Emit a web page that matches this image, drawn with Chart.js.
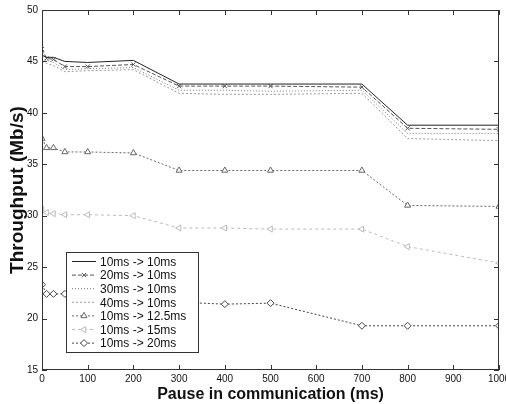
<!DOCTYPE html>
<html>
<head>
<meta charset="utf-8">
<script src="https://cdn.jsdelivr.net/npm/chart.js@4"></script>
<style>
  body { margin: 0; background: #fff; }
  #wrap { width: 506px; height: 404px; }
</style>
</head>
<body>
<div id="wrap"><canvas id="thr" width="506" height="404"></canvas></div>
<script>
// pause in communication (ms)
const pauses = [0, 10, 25, 50, 100, 200, 300, 400, 500, 700, 800, 1000];

const s10to10  = [45.6, 45.4, 45.4, 45.0, 44.9, 45.1, 42.8, 42.8, 42.8, 42.8, 38.8, 38.8];
const s20to10  = [46.2, 45.3, 45.2, 44.5, 44.5, 44.7, 42.6, 42.6, 42.6, 42.5, 38.5, 38.4];
const s30to10  = [45.3, 45.1, 44.9, 44.2, 44.3, 44.4, 42.2, 42.2, 42.1, 42.2, 38.0, 38.0];
const s40to10  = [45.0, 44.8, 44.6, 44.0, 44.1, 44.2, 41.9, 41.8, 41.8, 41.9, 37.5, 37.3];
const s10to125 = [37.5, 36.6, 36.6, 36.2, 36.2, 36.1, 34.4, 34.4, 34.4, 34.4, 31.0, 30.9];
const s10to15  = [30.6, 30.3, 30.2, 30.1, 30.1, 30.0, 28.8, 28.8, 28.7, 28.7, 27.0, 25.4];
const s10to20  = [23.3, 22.4, 22.4, 22.4, 22.3, 22.1, 21.6, 21.4, 21.5, 19.3, 19.3, 19.3];

const seriesNames = ['10ms -> 10ms', '20ms -> 10ms', '30ms -> 10ms', '40ms -> 10ms',
                     '10ms -> 12.5ms', '10ms -> 15ms', '10ms -> 20ms'];
const yTicks = [15, 20, 25, 30, 35, 40, 45, 50];
const xTicks = [0, 100, 200, 300, 400, 500, 600, 700, 800, 900, 1000];

function pts(vals) {
  return pauses.map((p, i) => ({ x: p, y: vals[i] }));
}

function ds(label, vals, color, dash, style, radius, rot) {
  return {
    label: label,
    data: pts(vals),
    borderColor: color,
    backgroundColor: 'rgba(0,0,0,0)',
    pointBorderColor: color,
    pointBackgroundColor: '#fff',
    borderWidth: 1,
    borderDash: dash,
    pointStyle: style,
    pointRadius: radius,
    pointRotation: rot || 0,
    pointBorderWidth: 1,
    tension: 0
  };
}

const frame = {
  id: 'frame',
  afterDraw(chart) {
    const ctx = chart.ctx, a = chart.chartArea;
    const xs = chart.scales.x, ys = chart.scales.y;
    ctx.save();
    ctx.strokeStyle = '#333';
    ctx.lineWidth = 1;
    ctx.setLineDash([]);
    ctx.strokeRect(a.left + 0.5, a.top + 0.5, a.right - a.left - 1, a.bottom - a.top - 1);
    ctx.beginPath();
    xTicks.forEach(t => {
      const px = Math.round(xs.getPixelForValue(t)) + 0.5;
      ctx.moveTo(px, a.bottom); ctx.lineTo(px, a.bottom - 5);
      ctx.moveTo(px, a.top); ctx.lineTo(px, a.top + 5);
    });
    yTicks.forEach(t => {
      const py = Math.round(ys.getPixelForValue(t)) + 0.5;
      ctx.moveTo(a.left, py); ctx.lineTo(a.left + 5, py);
      ctx.moveTo(a.right, py); ctx.lineTo(a.right - 5, py);
    });
    ctx.stroke();

    // legend box inside the plot
    const lx = 66, ly = 252, lw = 132, lh = 100;
    ctx.fillStyle = '#fff';
    ctx.fillRect(lx, ly, lw, lh);
    ctx.strokeStyle = '#333';
    ctx.strokeRect(lx + 0.5, ly + 0.5, lw, lh);
    ctx.font = '12px "Liberation Sans", Arial, sans-serif';
    ctx.textBaseline = 'middle';
    chart.data.datasets.forEach((d, i) => {
      const y = ly + 9.5 + i * 13.6;
      ctx.strokeStyle = d.borderColor;
      ctx.setLineDash(d.borderDash);
      ctx.beginPath();
      ctx.moveTo(lx + 6, y); ctx.lineTo(lx + 30, y);
      ctx.stroke();
      ctx.setLineDash([]);
      if (d.pointRadius > 0) {
        ctx.fillStyle = '#fff';
        Chart.helpers.drawPoint(ctx, {
          pointStyle: d.pointStyle, radius: d.pointRadius,
          rotation: d.pointRotation, borderWidth: 1
        }, lx + 18, y);
      }
      ctx.fillStyle = '#111';
      ctx.fillText(d.label, lx + 34, y + 1);
    });
    ctx.restore();
  }
};

new Chart(document.getElementById('thr'), {
  type: 'line',
  data: {
    datasets: [
      ds(seriesNames[0], s10to10, '#222', [], 'circle', 0),
      ds(seriesNames[1], s20to10, '#555', [4, 2], 'crossRot', 3),
      ds(seriesNames[2], s30to10, '#777', [1, 2], 'circle', 0),
      ds(seriesNames[3], s40to10, '#999', [2, 2], 'circle', 0),
      ds(seriesNames[4], s10to125, '#666', [2, 2], 'triangle', 3.5),
      ds(seriesNames[5], s10to15, '#bbb', [3, 3], 'triangle', 3.5, 270),
      ds(seriesNames[6], s10to20, '#444', [2, 2], 'rectRot', 3.5)
    ]
  },
  options: {
    responsive: false,
    animation: false,
    layout: { padding: { top: 10, right: 7, left: 0, bottom: 0 } },
    plugins: { legend: { display: false }, tooltip: { enabled: false } },
    scales: {
      x: {
        type: 'linear', min: 0, max: 1000,
        afterBuildTicks: s => { s.ticks = xTicks.map(v => ({ value: v })); },
        afterFit: s => { s.height = 34; s.paddingRight = 0; s.paddingLeft = 0; },
        grid: { display: false, drawTicks: false },
        border: { display: false },
        ticks: {
          color: '#111', padding: 3, callback: v => String(v),
          font: { size: 10, family: '"Liberation Sans", Arial' }
        },
        title: {
          display: true, text: 'Pause in communication (ms)', color: '#111',
          padding: { top: 0, bottom: 0 },
          font: { size: 16, weight: 'bold', family: '"Liberation Sans", Arial' }
        }
      },
      y: {
        min: 15, max: 50,
        afterBuildTicks: s => { s.ticks = yTicks.map(v => ({ value: v })); },
        afterFit: s => { s.width = 42; },
        grid: { display: false, drawTicks: false },
        border: { display: false },
        ticks: { color: '#111', padding: 4, font: { size: 10, family: '"Liberation Sans", Arial' } },
        title: {
          display: true, text: 'Throughput (Mb/s)', color: '#111',
          padding: { top: 6, bottom: 0 },
          font: { size: 19, weight: 'bold', family: '"Liberation Sans", Arial' }
        }
      }
    }
  },
  plugins: [frame]
});
</script>
</body>
</html>
